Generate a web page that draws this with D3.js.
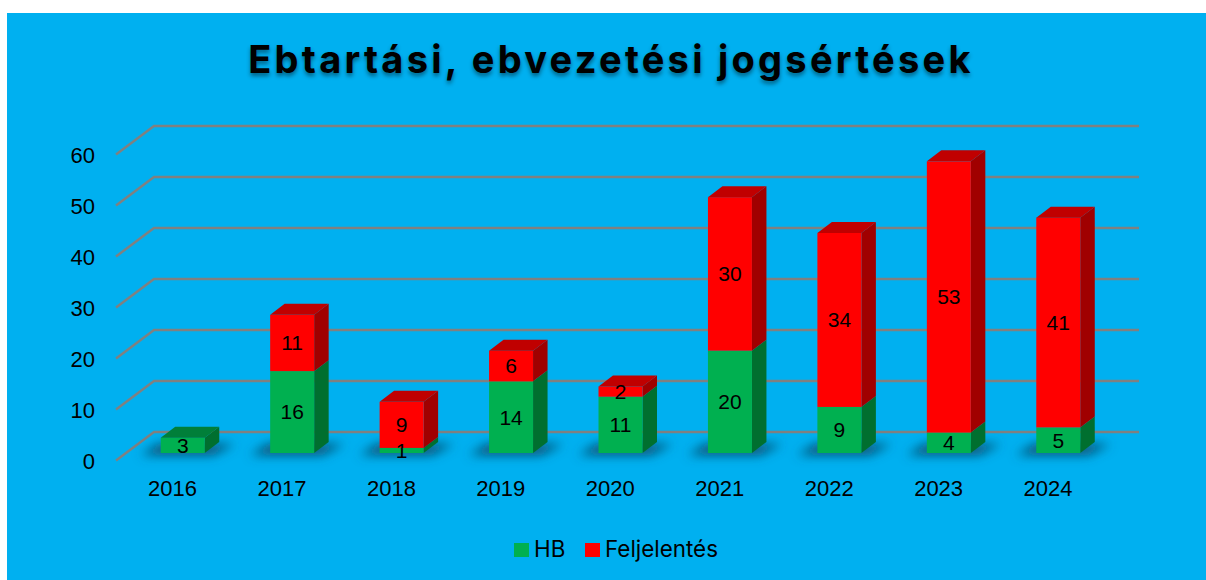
<!DOCTYPE html>
<html><head><meta charset="utf-8">
<script src="https://cdn.jsdelivr.net/npm/d3@7"></script>
<style>
html,body{margin:0;padding:0;background:#fff;overflow:hidden}
svg{display:block}
text{fill:#000}
</style></head><body>
<svg id="c" width="1206" height="580"></svg>
<script>
const years = ["2016","2017","2018","2019","2020","2021","2022","2023","2024"];
const hb = [3,16,1,14,11,20,9,4,5];
const feljelentes = [0,11,9,6,2,30,34,53,41];
const seriesNames = ["HB","Feljelentés"];
const yTicks = [0,10,20,30,40,50,60];
const titleText = "Ebtartási, ebvezetési jogsértések";

const colors = {
  HB:{front:"#00B050",top:"#007F39",side:"#006F2F"},
  "Feljelentés":{front:"#FF0000",top:"#C00000",side:"#A00000"}
};
const font = "Inter, 'Liberation Sans', sans-serif";
const numFont = "'Liberation Sans', Arial, sans-serif";
const svg = d3.select("#c");
const defs = svg.append("defs");
const sh = defs.append("filter").attr("id","blur").attr("filterUnits","userSpaceOnUse")
  .attr("x",0).attr("y",400).attr("width",1206).attr("height",100);
sh.append("feGaussianBlur").attr("stdDeviation",5.5);

svg.append("rect").attr("x",7).attr("y",13).attr("width",1199).attr("height",567).attr("fill","#00B0F0");

// title
svg.append("text").attr("x",611).attr("y",73).attr("text-anchor","middle")
  .attr("font-family",font).attr("font-weight",700).attr("font-size",38)
  .attr("letter-spacing",3.26)
  .style("text-shadow","0 3px 4px rgba(0,0,0,.45)")
  .text(titleText);

// scales
const yFront = d3.scaleLinear().domain([0,60]).range([460.5,154.5]);
const yBack  = d3.scaleLinear().domain([0,60]).range([432,126]);
const yBar   = d3.scaleLinear().domain([0,60]).range([453,146]);
const xBand  = d3.scaleBand().domain(years).range([128,1113]).paddingInner(0.598).paddingOuter(0.299);
const xFrontLeft = 116, xBackLeft = 154, xBackRight = 1139;
const dx = 14.5, dy = -11;

// wall grid lines
const grid = svg.append("g").attr("fill","none").attr("stroke","#808080").attr("stroke-width",2.4);
const gridLine = d3.line().x(d=>d[0]).y(d=>d[1]);
grid.selectAll("path").data(yTicks).join("path")
  .attr("d",t=>gridLine([[xFrontLeft,yFront(t)],[xBackLeft,yBack(t)],[xBackRight,yBack(t)]]));

// axes text
const axisY = d3.axisLeft(yFront).tickValues(yTicks).tickSize(0).tickPadding(0);
const gy = svg.append("g").attr("transform","translate(95,0)").call(axisY);
gy.select(".domain").remove();
gy.selectAll("text").attr("font-family",numFont).attr("font-size",22).attr("fill","#000").attr("dy","0.35em");

const axisX = d3.axisBottom(d3.scalePoint().domain(years).range([172,172+8*xBand.step()])).tickSize(0).tickPadding(0);
const gx = svg.append("g").attr("transform","translate(0,480)").call(axisX);
gx.select(".domain").remove();
gx.selectAll("text").attr("font-family",numFont).attr("font-size",22).attr("fill","#000").attr("dy","0.71em");

// stacked data
const table = years.map((y,i)=>({year:y,HB:hb[i],"Feljelentés":feljelentes[i]}));
const stacked = d3.stack().keys(seriesNames)(table);
const w = xBand.bandwidth();

// floor shadows
const poly = p=>p.map(q=>q.join(",")).join(" ");
svg.append("g").attr("filter","url(#blur)").attr("fill","#0B5070")
  .selectAll("polygon").data(years).join("polygon")
  .attr("points",y=>{const x=xBand(y),b=yBar(0);
    return poly([[x-20,b+2],[x+w+8,b+2],[x+w+dx+16,b+dy+2],[x-2,b+dy+2]]);});

// bars
const bars = svg.append("g");
years.forEach((yr,i)=>{
  const x = xBand(yr);
  stacked.forEach(s=>{
    const d = s[i], c = colors[s.key];
    if(d[1]===d[0]) return;
    const y0 = yBar(d[0]), y1 = yBar(d[1]);
    bars.append("polygon").attr("fill",c.side)
      .attr("points",poly([[x+w,y0],[x+w,y1],[x+w+dx,y1+dy],[x+w+dx,y0+dy]]));
    bars.append("rect").attr("x",x).attr("y",y1).attr("width",w).attr("height",y0-y1).attr("fill",c.front);
    const isTop = s.key==="Feljelentés" || feljelentes[i]===0;
    if(isTop) bars.append("polygon").attr("fill",c.top)
      .attr("points",poly([[x,y1],[x+w,y1],[x+w+dx,y1+dy],[x+dx,y1+dy]]));
  });
});

// value labels
const labels = svg.append("g").attr("font-family",numFont).attr("font-size",21).attr("text-anchor","middle");
stacked.forEach(s=>{
  years.forEach((yr,i)=>{
    const d = s[i]; const v = d[1]-d[0];
    if(!v) return;
    labels.append("text").attr("x",xBand(yr)+w/2).attr("y",(yBar(d[0])+yBar(d[1]))/2).attr("dy","0.35em").text(v);
  });
});

// legend
const legendItems = [{k:"HB",sx:514,tx:534},{k:"Feljelentés",sx:585,tx:605}];
const lg = svg.append("g");
legendItems.forEach(l=>{
  lg.append("rect").attr("x",l.sx).attr("y",543).attr("width",15).attr("height",14).attr("fill",colors[l.k].front);
  lg.append("text").attr("x",l.tx).attr("y",557).attr("font-family",font).attr("font-size",22.4).text(l.k);
});
</script>
</body></html>
